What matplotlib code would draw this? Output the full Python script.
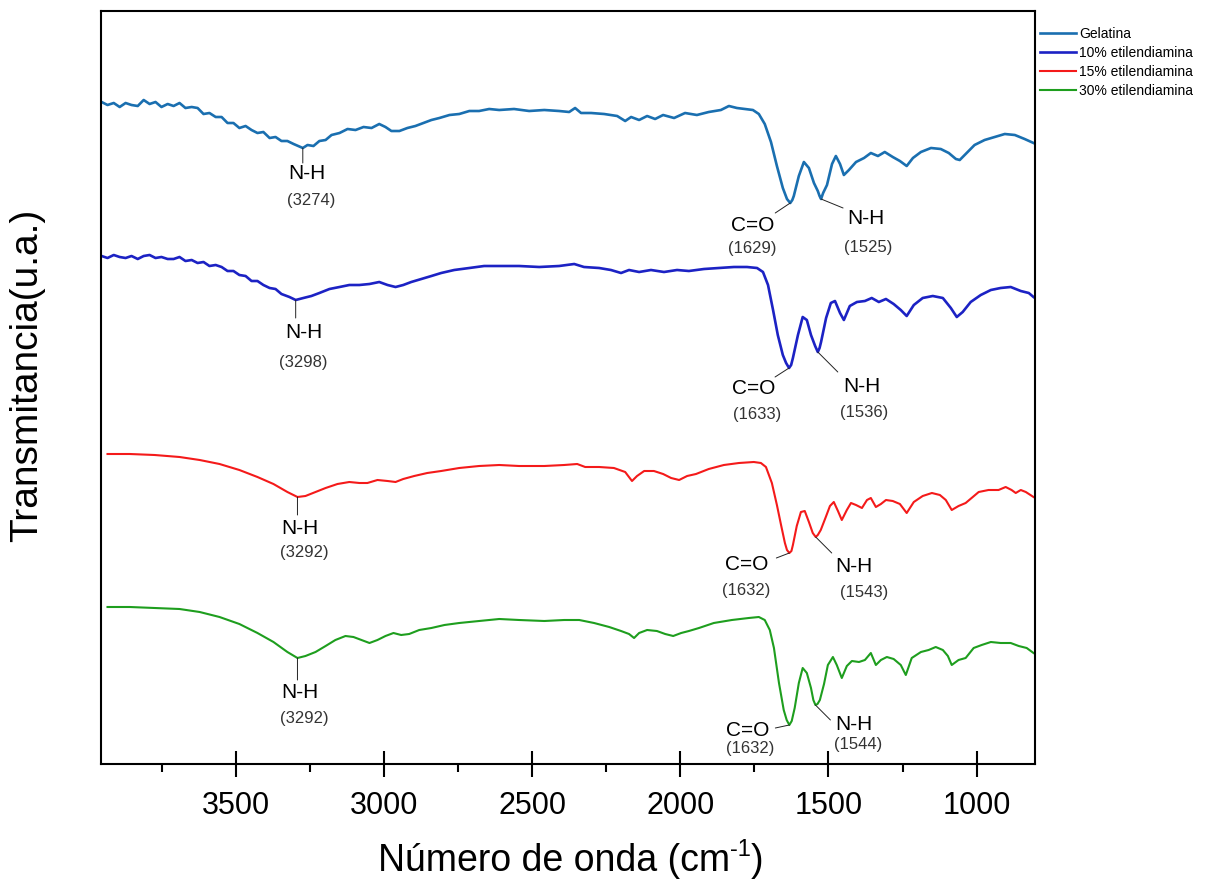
import matplotlib
matplotlib.use('Agg')
import matplotlib.pyplot as plt
from matplotlib.transforms import IdentityTransform
import numpy as np

plt.rcParams['font.family'] = ['Liberation Sans', 'DejaVu Sans']

# FTIR spectra (wavenumber in cm-1, transmittance in arbitrary stacked units)
wn_gel = [3953, 3933, 3912, 3892, 3872, 3852, 3831, 3811, 3791, 3771, 3751, 3730, 3710, 3690,
          3670, 3649, 3629, 3609, 3589, 3568, 3548, 3528, 3508, 3488, 3467, 3447, 3427, 3407,
          3386, 3366, 3346, 3326, 3305, 3274, 3258, 3238, 3218, 3197, 3177, 3150, 3123, 3096,
          3069, 3042, 3016, 2995, 2975, 2948, 2921, 2894, 2867, 2840, 2813, 2779, 2746, 2712,
          2679, 2645, 2611, 2561, 2510, 2459, 2409, 2375, 2355, 2335, 2301, 2257, 2213, 2186,
          2166, 2139, 2112, 2085, 2058, 2021, 1984, 1944, 1904, 1863, 1836, 1809, 1782, 1755,
          1735, 1715, 1694, 1674, 1654, 1640, 1629, 1622, 1617, 1600, 1583, 1566, 1549, 1536,
          1530, 1525, 1518, 1505, 1488, 1475, 1461, 1448, 1431, 1407, 1380, 1357, 1333, 1310,
          1283, 1259, 1236, 1215, 1188, 1154, 1121, 1094, 1070, 1057, 1037, 1007, 973, 939,
          905, 871, 838, 808]
t_gel = [662, 659, 661, 657, 661, 659, 658, 664, 660, 662, 657, 660, 658, 661,
         656, 657, 656, 650, 651, 647, 647, 641, 641, 636, 638, 634, 631, 632,
         626, 627, 623, 623, 620, 616, 619, 618, 623, 624, 629, 631, 635, 634,
         637, 636, 640, 637, 633, 633, 636, 638, 641, 644, 646, 649, 650, 653,
         653, 655, 654, 655, 653, 654, 653, 652, 656, 651, 651, 650, 648, 643,
         647, 644, 648, 645, 649, 646, 651, 649, 652, 654, 658, 656, 655, 654,
         650, 640, 622, 598, 576, 565, 561, 564, 568, 588, 602, 596, 581, 573,
         568, 565, 571, 579, 600, 608, 600, 589, 594, 602, 606, 611, 608, 612,
         607, 603, 598, 606, 612, 616, 615, 611, 605, 604, 610, 619, 624, 627,
         630, 629, 625, 621]

wn_10 = [3953, 3933, 3912, 3892, 3872, 3852, 3831, 3811, 3791, 3771, 3751, 3730, 3710, 3690,
         3670, 3649, 3629, 3609, 3589, 3568, 3548, 3528, 3508, 3488, 3467, 3447, 3427, 3407,
         3386, 3366, 3346, 3319, 3298, 3272, 3245, 3218, 3184, 3150, 3117, 3083, 3049, 3016,
         2988, 2961, 2935, 2908, 2874, 2840, 2807, 2763, 2712, 2662, 2611, 2544, 2476, 2409,
         2358, 2325, 2274, 2234, 2200, 2173, 2139, 2099, 2055, 2011, 1971, 1920, 1870, 1819,
         1775, 1741, 1721, 1704, 1687, 1671, 1654, 1643, 1633, 1626, 1620, 1603, 1587, 1573,
         1559, 1545, 1536, 1530, 1525, 1508, 1492, 1478, 1461, 1448, 1428, 1404, 1377, 1354,
         1330, 1306, 1280, 1256, 1236, 1212, 1182, 1148, 1114, 1087, 1067, 1047, 1020, 986,
         952, 919, 885, 851, 824, 808]
t_10 = [508, 506, 509, 507, 506, 508, 505, 508, 509, 506, 507, 505, 505, 507,
        503, 504, 501, 502, 498, 499, 497, 493, 493, 489, 488, 483, 483, 479,
        476, 475, 470, 467, 464, 466, 468, 471, 475, 477, 479, 479, 480, 482,
        479, 477, 479, 482, 485, 488, 491, 494, 496, 498, 498, 498, 497, 498,
        500, 497, 496, 494, 491, 494, 492, 494, 492, 494, 493, 495, 496, 497,
        497, 496, 492, 479, 454, 429, 409, 401, 396, 399, 406, 429, 447, 444,
        429, 418, 412, 416, 422, 446, 461, 463, 451, 444, 458, 462, 463, 466,
        462, 465, 460, 454, 448, 459, 466, 468, 466, 456, 447, 452, 462, 469,
        474, 476, 477, 473, 471, 467]

wn_15 = [3933, 3858, 3774, 3690, 3622, 3555, 3488, 3427, 3373, 3326, 3292, 3265, 3231, 3197,
         3157, 3117, 3083, 3056, 3022, 2988, 2961, 2935, 2898, 2854, 2807, 2746, 2679, 2611,
         2544, 2459, 2392, 2348, 2321, 2274, 2224, 2186, 2163, 2146, 2122, 2089, 2058, 2031,
         2004, 1977, 1947, 1904, 1853, 1802, 1752, 1728, 1711, 1691, 1674, 1660, 1647, 1640,
         1632, 1625, 1620, 1607, 1593, 1580, 1566, 1553, 1548, 1543, 1536, 1526, 1509, 1495,
         1482, 1468, 1455, 1438, 1424, 1407, 1387, 1370, 1357, 1340, 1323, 1306, 1283, 1259,
         1236, 1212, 1182, 1151, 1124, 1104, 1084, 1061, 1037, 1013, 993, 960, 926, 902,
         882, 868, 851, 834, 808]
t_15 = [310, 310, 309, 307, 304, 300, 294, 287, 280, 272, 267, 268, 272, 276,
        280, 282, 281, 281, 284, 283, 282, 285, 288, 291, 293, 296, 298, 299,
        298, 298, 299, 300, 297, 297, 296, 292, 283, 288, 293, 293, 290, 286,
        284, 288, 290, 295, 299, 301, 302, 301, 297, 281, 259, 239, 221, 214,
        211, 213, 219, 238, 252, 253, 242, 231, 229, 227, 229, 234, 247, 258,
        262, 253, 244, 254, 261, 259, 256, 264, 266, 257, 260, 264, 263, 260,
        251, 262, 268, 271, 269, 264, 254, 258, 261, 267, 272, 274, 274, 277,
        274, 271, 274, 272, 267]

wn_30 = [3933, 3858, 3774, 3690, 3622, 3555, 3488, 3427, 3373, 3326, 3292, 3265, 3231, 3197,
         3164, 3130, 3103, 3076, 3049, 3022, 2995, 2968, 2942, 2915, 2881, 2840, 2796, 2746,
         2679, 2611, 2544, 2459, 2392, 2341, 2291, 2240, 2200, 2173, 2156, 2139, 2112, 2079,
         2051, 2024, 1997, 1971, 1937, 1887, 1826, 1769, 1735, 1715, 1698, 1684, 1667, 1651,
         1641, 1632, 1624, 1614, 1600, 1587, 1573, 1559, 1551, 1544, 1537, 1529, 1515, 1502,
         1485, 1472, 1455, 1438, 1421, 1397, 1377, 1357, 1340, 1323, 1303, 1280, 1256, 1239,
         1219, 1188, 1162, 1138, 1114, 1097, 1084, 1061, 1037, 1010, 983, 952, 919, 885,
         858, 831, 808]
t_30 = [157, 157, 156, 155, 152, 147, 140, 131, 122, 112, 106, 108, 112, 118,
        124, 128, 127, 124, 121, 124, 128, 131, 129, 130, 134, 136, 139, 141,
        143, 145, 144, 143, 144, 144, 141, 137, 133, 130, 126, 131, 134, 133,
        130, 128, 131, 133, 136, 141, 144, 146, 147, 144, 134, 116, 81, 54,
        44, 39, 43, 56, 81, 96, 91, 76, 64, 59, 60, 64, 80, 99,
        107, 99, 86, 98, 103, 102, 104, 111, 99, 104, 107, 105, 99, 89,
        106, 112, 114, 117, 114, 108, 99, 104, 106, 116, 119, 122, 121, 121,
        118, 116, 111]

labels = ['Gelatina', '10% etilendiamina', '15% etilendiamina', '30% etilendiamina']
colors = ['#1a6fb0', '#1c22c4', '#f41a1a', '#1e9e1e']
widths = [1.9, 1.9, 1.5, 1.5]

# Assigned bands: (series index, wavenumber, group)
bands = [(0, 3274, 'N-H'), (0, 1629, 'C=O'), (0, 1525, 'N-H'),
         (1, 3298, 'N-H'), (1, 1633, 'C=O'), (1, 1536, 'N-H'),
         (2, 3292, 'N-H'), (2, 1632, 'C=O'), (2, 1543, 'N-H'),
         (3, 3292, 'N-H'), (3, 1632, 'C=O'), (3, 1544, 'N-H')]

# Label layout in pixel offsets from the band: leader end, group text, value text
label_offsets = [((0, -15), (4, -25), (8, -52)),
                 ((-15, -10), (-38, -22), (-38, -45)),
                 ((22, -9), (45, -19), (47, -48)),
                 ((0, -18), (8, -33), (8, -62)),
                 ((-14, -9), (-35, -21), (-32, -47)),
                 ((20, -20), (44, -34), (46, -60)),
                 ((0, -18), (2, -31), (7, -56)),
                 ((-13, -5), (-43, -12), (-43, -37)),
                 ((16, -16), (38, -30), (48, -56)),
                 ((0, -22), (2, -35), (7, -60)),
                 ((-14, -3), (-42, -5), (-39, -23)),
                 ((15, -15), (38, -20), (43, -40))]

series = [(wn_gel, t_gel), (wn_10, t_10), (wn_15, t_15), (wn_30, t_30)]

fig = plt.figure(figsize=(12.26, 8.89), dpi=100)
ax = fig.add_axes([101 / 1226, 1 - 764 / 889, 934 / 1226, 753 / 889])

lines = []
for (x, y), c, lw, lab in zip(series, colors, widths, labels):
    ln, = ax.plot(x, y, color=c, lw=lw, label=lab, solid_joinstyle='round')
    lines.append(ln)

for (i, wn, grp), (lead, gpos, vpos) in zip(bands, label_offsets):
    x = np.array(series[i][0])[::-1]
    y = np.array(series[i][1])[::-1]
    h = np.interp(wn, x, y)
    ax.annotate('', xy=(wn, h), xytext=lead, textcoords='offset pixels',
                arrowprops=dict(arrowstyle='-', lw=0.7, color='#222222', shrinkA=0, shrinkB=0))
    ax.annotate(grp, xy=(wn, h), xytext=gpos, textcoords='offset pixels',
                ha='center', va='center', fontsize=15)
    ax.annotate('(%d)' % wn, xy=(wn, h), xytext=vpos, textcoords='offset pixels',
                ha='center', va='center', fontsize=12, color='#333333')

ax.set_xlim(3955, 803)
ax.set_ylim(0, 753)
ax.set_xticks([3500, 3000, 2500, 2000, 1500, 1000])
ax.set_xticks([3750, 3250, 2750, 2250, 1750, 1250], minor=True)
ax.set_yticks([])
ax.tick_params(axis='x', which='major', direction='inout', length=19, width=1.5,
               labelsize=22, pad=10)
ax.tick_params(axis='x', which='minor', direction='out', length=6, width=1.5)
for s in ax.spines.values():
    s.set_linewidth(1.5)

fig.text(27 / 1226, 1 - 375 / 889, 'Transmitancia(u.a.)', rotation=90,
         ha='center', va='center', fontsize=28)

# x label with a plain hyphen in the superscript, laid out piece by piece in pixels
xlabel_parts = [('Número de onda (cm', 27, 0), ('-1', 17, 15), (')', 27, 0)]
renderer = fig.canvas.get_renderer()
pieces = [fig.text(0, 0, s, fontsize=fs, transform=IdentityTransform(),
                   ha='left', va='baseline') for s, fs, _ in xlabel_parts]
w = [p.get_window_extent(renderer).width for p in pieces]
x0 = 571 - sum(w) / 2
for p, (s, fs, rise), wi in zip(pieces, xlabel_parts, w):
    p.set_position((x0, 889 - 871 + rise))
    x0 += wi

fig.legend(handles=lines, labels=labels, loc='upper left',
           bbox_to_anchor=(1040 / 1226, 1 - 27 / 889), frameon=False, fontsize=10,
           handlelength=2.6, handletextpad=0.2, labelspacing=0.35,
           borderpad=0, borderaxespad=0)

fig.savefig('out.png', dpi=100)
